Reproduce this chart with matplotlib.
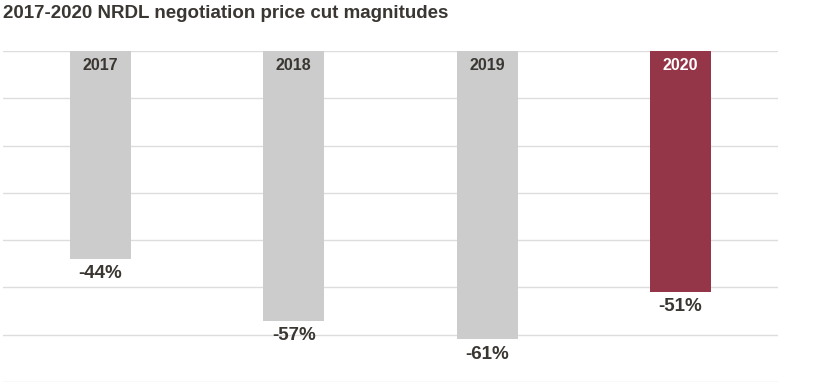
import matplotlib.pyplot as plt
import numpy as np

# price cut data
years = ["2017", "2018", "2019", "2020"]
cuts = [-44, -57, -61, -51]
labels = ["-44%", "-57%", "-61%", "-51%"]
colors = ["#cccccc", "#cccccc", "#cccccc", "#943548"]
year_colors = ["#3a3632", "#3a3632", "#3a3632", "#ffffff"]

plt.rcParams['font.family'] = ['Liberation Sans', 'DejaVu Sans']

fig = plt.figure(figsize=(8.4, 3.88), dpi=100)
ax = fig.add_axes([3/840, 1 - 382/388, 775/840, 331/388])

x = np.arange(len(years))
ax.bar(x, cuts, width=0.315, color=colors, zorder=2)

for i in range(len(years)):
    ax.text(x[i], -1.4, years[i], ha="center", va="top", fontsize=11.5,
            fontweight="bold", color=year_colors[i], zorder=3)
    ax.text(x[i], cuts[i] - 1.3, labels[i], ha="center", va="top", fontsize=13.5,
            fontweight="bold", color="#3a3632", zorder=3)

ax.set_xlim(-0.504, 3.505)
ax.set_ylim(-70, 0)
ax.set_yticks(np.arange(-70, 1, 10))
ax.yaxis.grid(True, color="#dddddd", linewidth=1, zorder=0)
ax.axhline(0, color="#b0b0b0", linewidth=1.2, zorder=1)
ax.tick_params(left=False, bottom=False, labelleft=False, labelbottom=False)
for s in ax.spines.values():
    s.set_visible(False)

fig.text(3/840, 1 - 14/388, "2017-2020 NRDL negotiation price cut magnitudes",
         ha="left", va="center", fontsize=13.5, fontweight="bold", color="#3a3632")

fig.savefig("out.png", dpi=100)
